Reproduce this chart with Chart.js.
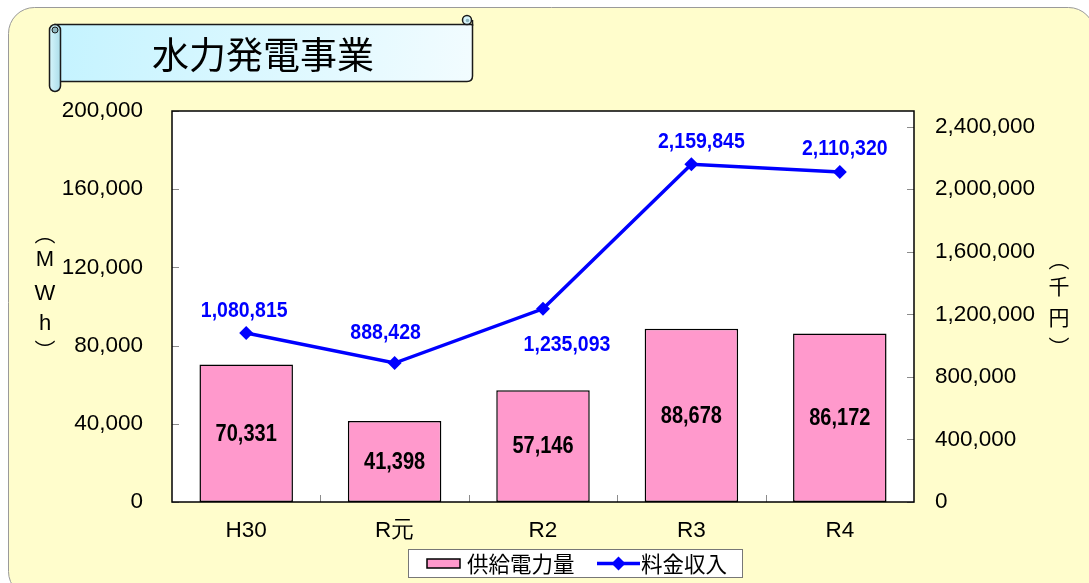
<!DOCTYPE html>
<html lang="ja">
<head>
<meta charset="utf-8">
<script src="https://cdn.jsdelivr.net/npm/chart.js@4/dist/chart.umd.min.js"></script>
<style>
  html, body { margin: 0; padding: 0; background: #fff; }
  #wrap { width: 1089px; height: 583px; position: relative; }
  canvas { display: block; }
</style>
</head>
<body>
<div id="wrap"><canvas id="c" width="1089" height="583"></canvas></div>
<script>
// ---- data ----
const titleText = '水力発電事業';
const categories = ['H30', 'R元', 'R2', 'R3', 'R4'];
const supplyMWh = [70331, 41398, 57146, 88678, 86172];          // 供給電力量 (MWh)
const revenueThousandYen = [1080815, 888428, 1235093, 2159845, 2110320]; // 料金収入 (千円)
const leftTickValues = [0, 40000, 80000, 120000, 160000, 200000];
const rightTickValues = [0, 400000, 800000, 1200000, 1600000, 2000000, 2400000];
const seriesNames = ['供給電力量', '料金収入'];
const leftAxisTitle = ['︵', 'M', 'W', 'h', '︶'];
const rightAxisTitle = ['︵', '千', '円', '︶'];

// ---- style ----
const NUM_FONT = '"Liberation Sans", Arial, sans-serif';
const JP_FONT = '"Noto Sans CJK JP", "Noto Sans", sans-serif';
const lineLabelOffsets = [[-2, -22], [-9, -30], [24, 36], [10, -22], [5, -23]];
const leftTitleY = [233, 260, 294, 324, 350];
const rightTitleY = [259, 286, 317, 347];
const fmt = v => v.toLocaleString('en-US');

function stretchedText(ctx, text, x, y, sy) {
  ctx.save();
  ctx.translate(x, y);
  ctx.scale(1, sy);
  ctx.fillText(text, 0, 0);
  ctx.restore();
}

function verticalTitle(ctx, chars, ys, x, latinFont) {
  chars.forEach((ch, i) => {
    ctx.font = /[A-Za-z]/.test(ch) ? latinFont : '21px ' + JP_FONT;
    ctx.fillText(ch, x, ys[i]);
  });
}

const decorPlugin = {
  id: 'decor',
  beforeDraw(chart) {
    const ctx = chart.ctx;
    const a = chart.chartArea;
    ctx.save();
    ctx.fillStyle = '#ffffff';
    ctx.fillRect(0, 0, chart.width, chart.height);
    // panel
    ctx.beginPath();
    ctx.roundRect(8.5, 7.5, 1086, 590, 26);
    ctx.fillStyle = '#FFFDCC';
    ctx.fill();
    ctx.strokeStyle = '#9a9a9a';
    ctx.lineWidth = 1;
    ctx.stroke();

    // scroll title
    const g = ctx.createLinearGradient(55, 24, 472, 81);
    g.addColorStop(0, '#C4F3FF');
    g.addColorStop(1, '#F2FCFF');
    ctx.beginPath();
    ctx.moveTo(55, 24.5);
    ctx.lineTo(472.5, 24.5);
    ctx.lineTo(472.5, 76);
    ctx.quadraticCurveTo(472.5, 81.5, 467, 81.5);
    ctx.lineTo(55, 81.5);
    ctx.closePath();
    ctx.fillStyle = g;
    ctx.fill();
    ctx.strokeStyle = '#1a1a1a';
    ctx.lineWidth = 1.5;
    ctx.stroke();
    // right curl
    ctx.beginPath();
    ctx.arc(467, 20, 4.5, 0, Math.PI * 2);
    ctx.fillStyle = '#D7F4FA';
    ctx.fill();
    ctx.stroke();
    ctx.beginPath();
    ctx.arc(467.5, 20.5, 1.8, 0, Math.PI * 2);
    ctx.fillStyle = '#8fb7c0';
    ctx.fill();
    ctx.beginPath();
    ctx.moveTo(472.5, 20);
    ctx.lineTo(472.5, 26);
    ctx.stroke();
    // left roll
    ctx.beginPath();
    ctx.roundRect(49.5, 24.5, 11, 67, 5.5);
    const g2 = ctx.createLinearGradient(49, 0, 61, 0);
    g2.addColorStop(0, '#D8F6FC');
    g2.addColorStop(1, '#A9DCE8');
    ctx.fillStyle = g2;
    ctx.fill();
    ctx.stroke();
    ctx.beginPath();
    ctx.arc(55, 30, 3, 0, Math.PI * 2);
    ctx.fillStyle = '#8fb7c0';
    ctx.fill();
    ctx.strokeStyle = '#1a1a1a';
    ctx.lineWidth = 1;
    ctx.stroke();
    // title text
    ctx.fillStyle = '#000';
    ctx.font = '37px ' + JP_FONT;
    ctx.textAlign = 'center';
    ctx.textBaseline = 'middle';
    ctx.fillText(titleText, 263, 55);

    // plot area
    ctx.fillStyle = '#ffffff';
    ctx.fillRect(a.left, a.top, a.right - a.left, a.bottom - a.top);
    ctx.restore();
  },
  afterDatasetsDraw(chart) {
    const ctx = chart.ctx;
    const a = chart.chartArea;
    ctx.save();
    ctx.textAlign = 'center';
    ctx.textBaseline = 'middle';
    // bar labels
    const barMeta = chart.getDatasetMeta(1);
    ctx.font = 'bold 20px ' + NUM_FONT;
    ctx.fillStyle = '#000';
    barMeta.data.forEach((el, i) => {
      stretchedText(ctx, fmt(supplyMWh[i]), el.x, (el.y + el.base) / 2 + 1, 1.15);
    });
    // line labels
    const lineMeta = chart.getDatasetMeta(0);
    ctx.fillStyle = '#0000FF';
    ctx.font = 'bold 19.5px ' + NUM_FONT;
    lineMeta.data.forEach((el, i) => {
      const o = lineLabelOffsets[i];
      stretchedText(ctx, fmt(revenueThousandYen[i]), el.x + o[0], el.y + o[1], 1.15);
    });
    // tick marks inside
    ctx.strokeStyle = '#8c8c8c';
    ctx.lineWidth = 1;
    const yL = chart.scales.y, yR = chart.scales.y1;
    leftTickValues.forEach(v => {
      const py = Math.round(yL.getPixelForValue(v)) + 0.5;
      ctx.beginPath(); ctx.moveTo(a.left, py); ctx.lineTo(a.left + 7, py); ctx.stroke();
    });
    rightTickValues.forEach(v => {
      const py = Math.round(yR.getPixelForValue(v)) + 0.5;
      ctx.beginPath(); ctx.moveTo(a.right, py); ctx.lineTo(a.right - 7, py); ctx.stroke();
    });
    const cw = (a.right - a.left) / categories.length;
    for (let i = 1; i < categories.length; i++) {
      const px = Math.round(a.left + cw * i) + 0.5;
      ctx.beginPath(); ctx.moveTo(px, a.bottom); ctx.lineTo(px, a.bottom - 7); ctx.stroke();
    }
    // plot border
    ctx.strokeStyle = '#000';
    ctx.lineWidth = 1.5;
    ctx.strokeRect(a.left, a.top, a.right - a.left, a.bottom - a.top);
    ctx.restore();
  },
  afterDraw(chart) {
    const ctx = chart.ctx;
    ctx.save();
    ctx.fillStyle = '#000';
    ctx.textAlign = 'center';
    ctx.textBaseline = 'middle';
    // axis titles (vertical)
    verticalTitle(ctx, leftAxisTitle, leftTitleY, 45, '22px ' + NUM_FONT);
    verticalTitle(ctx, rightAxisTitle, rightTitleY, 1059, '22px ' + NUM_FONT);
    // legend
    ctx.fillStyle = '#ffffff';
    ctx.fillRect(408.5, 549.5, 334, 28);
    ctx.strokeStyle = '#777';
    ctx.lineWidth = 1;
    ctx.strokeRect(408.5, 549.5, 334, 28);
    ctx.fillStyle = '#FF99CC';
    ctx.fillRect(427, 559, 33, 9);
    ctx.strokeStyle = '#000';
    ctx.lineWidth = 1.5;
    ctx.strokeRect(427, 559, 33, 9);
    ctx.fillStyle = '#000';
    ctx.font = '21.5px ' + JP_FONT;
    ctx.textAlign = 'left';
    ctx.fillText(seriesNames[0], 467, 564);
    ctx.strokeStyle = '#0000FF';
    ctx.lineWidth = 3.5;
    ctx.beginPath(); ctx.moveTo(597, 563.5); ctx.lineTo(640, 563.5); ctx.stroke();
    ctx.fillStyle = '#0000FF';
    ctx.beginPath();
    ctx.moveTo(618.5, 556.5); ctx.lineTo(625.5, 563.5); ctx.lineTo(618.5, 570.5); ctx.lineTo(611.5, 563.5);
    ctx.closePath(); ctx.fill();
    ctx.fillStyle = '#000';
    ctx.fillText(seriesNames[1], 641, 564);
    ctx.restore();
  }
};

new Chart(document.getElementById('c'), {
  data: {
    labels: categories,
    datasets: [
      {
        type: 'line',
        label: seriesNames[1],
        data: revenueThousandYen,
        yAxisID: 'y1',
        borderColor: '#0000FF',
        backgroundColor: '#0000FF',
        borderWidth: 3.5,
        pointStyle: 'rectRot',
        pointRadius: 7,
        pointBorderWidth: 0,
        tension: 0,
        order: 0
      },
      {
        type: 'bar',
        label: seriesNames[0],
        data: supplyMWh,
        yAxisID: 'y',
        backgroundColor: '#FF99CC',
        borderColor: '#000000',
        borderWidth: 1.5,
        borderSkipped: false,
        categoryPercentage: 1,
        barPercentage: 0.63,
        order: 1
      }
    ]
  },
  options: {
    responsive: false,
    animation: false,
    devicePixelRatio: 1,
    layout: { padding: { top: 111, left: 0, right: 0, bottom: 0 } },
    plugins: { legend: { display: false }, tooltip: { enabled: false } },
    scales: {
      x: {
        grid: { display: false, drawTicks: false },
        border: { display: false },
        ticks: { color: '#000', font: { size: 22.5, family: NUM_FONT }, padding: 15, maxRotation: 0 },
        afterFit(s) { s.height = 81; }
      },
      y: {
        position: 'left',
        min: 0, max: 200000,
        grid: { display: false, drawTicks: false },
        border: { display: false },
        afterBuildTicks(s) { s.ticks = leftTickValues.map(v => ({ value: v })); },
        ticks: { color: '#000', font: { size: 22.5, family: NUM_FONT }, padding: 29, callback: v => fmt(v) },
        afterFit(s) { s.width = 172; }
      },
      y1: {
        position: 'right',
        min: 0, max: 2500000,
        grid: { display: false, drawTicks: false },
        border: { display: false },
        afterBuildTicks(s) { s.ticks = rightTickValues.map(v => ({ value: v })); },
        ticks: { color: '#000', font: { size: 22.5, family: NUM_FONT }, padding: 21, callback: v => fmt(v) },
        afterFit(s) { s.width = 175; }
      }
    }
  },
  plugins: [decorPlugin]
});
</script>
</body>
</html>
